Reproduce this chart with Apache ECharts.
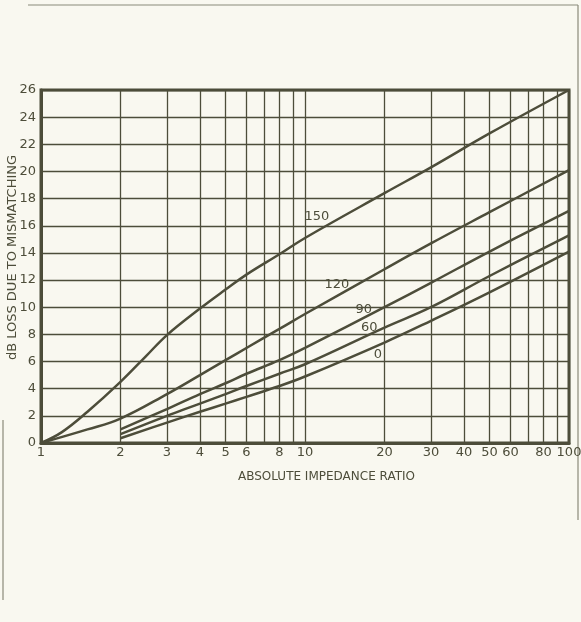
<!DOCTYPE html>
<html>
<head>
<meta charset="utf-8">
<script src="https://cdn.jsdelivr.net/npm/echarts@6/dist/echarts.min.js"></script>
<style>
  html, body { margin: 0; padding: 0; background: #f9f8f0; }
  #chart { width: 581px; height: 622px; }
</style>
</head>
<body>
<div id="chart"></div>
<script>
// impedance ratio (x) and dB loss (y) per curve
const ratio150 = [1, 1.2, 1.5, 2, 2.5, 3, 4, 5, 6, 8, 10, 20, 30, 50, 100];
const loss150  = [0, 0.8, 2.3, 4.5, 6.4, 7.95, 9.9, 11.3, 12.4, 13.9, 15.1, 18.4, 20.3, 22.8, 26];

const ratio120 = [1, 1.5, 2, 3, 4, 5, 6, 8, 10, 20, 30, 50, 100];
const loss120  = [0, 1.0, 1.8, 3.6, 5.0, 6.1, 7.0, 8.4, 9.5, 12.8, 14.7, 17.0, 20.1];

const ratio90 = [2, 3, 4, 5, 6, 8, 10, 20, 30, 50, 100];
const loss90  = [1.0, 2.5, 3.6, 4.4, 5.1, 6.1, 7.0, 10.0, 11.8, 14.1, 17.1];

const ratio60 = [2, 3, 4, 5, 6, 8, 10, 20, 30, 50, 100];
const loss60  = [0.65, 2.0, 2.9, 3.6, 4.2, 5.1, 5.8, 8.5, 10.0, 12.3, 15.3];

const ratio0 = [2, 3, 4, 5, 6, 8, 10, 20, 30, 50, 100];
const loss0  = [0.35, 1.5, 2.3, 2.9, 3.4, 4.2, 4.9, 7.4, 9.0, 11.1, 14.1];

// curve labels: [ratio, loss, text]
const curveLabels = [[11.1, 16.7, '150'], [13.2, 11.7, '120'], [16.7, 9.8, '90'], [17.5, 8.5, '60'], [18.9, 6.5, '0']];

// vertical grid lines and which of them get a tick label
const gridRatios = [1, 2, 3, 4, 5, 6, 7, 8, 9, 10, 20, 30, 40, 50, 60, 70, 80, 90, 100];
const tickLabels = [1, 2, 3, 4, 5, 6, 8, 10, 20, 30, 40, 50, 60, 80, 100];

const ink = '#4d4d3a';
const font = 'DejaVu Sans';

function pairs(xs, ys) {
  return xs.map(function (x, i) { return [x, ys[i]]; });
}

function curve(xs, ys) {
  return {
    type: 'line',
    data: pairs(xs, ys),
    smooth: 0.4,
    symbol: 'none',
    lineStyle: { color: ink, width: 2.5 },
    silent: true
  };
}

const chart = echarts.init(document.getElementById('chart'));

const series = [curve(ratio150, loss150), curve(ratio120, loss120), curve(ratio90, loss90),
                curve(ratio60, loss60), curve(ratio0, loss0)];

series[0].markLine = {
  silent: true,
  symbol: ['none', 'none'],
  animation: false,
  lineStyle: { color: ink, width: 1.3, type: 'solid' },
  label: {
    show: true,
    position: 'start',
    distance: 3,
    color: ink,
    fontFamily: font,
    fontSize: 13,
    formatter: function (p) {
      return tickLabels.indexOf(p.value) >= 0 ? String(p.value) : '';
    }
  },
  emphasis: { disabled: true },
  data: gridRatios.map(function (v) { return { xAxis: v }; })
};

series.push({
  type: 'scatter',
  data: curveLabels.map(function (d) { return [d[0], d[1], d[2]]; }),
  symbolSize: 0,
  silent: true,
  z: 5,
  label: {
    show: true,
    position: 'inside',
    color: ink,
    opacity: 1,
    textBorderWidth: 0,
    fontFamily: font,
    fontSize: 13,
    formatter: function (p) { return p.data[2]; }
  }
});

chart.setOption({
  backgroundColor: '#f9f8f0',
  animation: false,
  grid: {
    left: 41, right: 12, top: 90, bottom: 179,
    containLabel: false,
    outerBoundsMode: 'none',
    show: true, borderColor: ink, borderWidth: 3, backgroundColor: 'transparent'
  },
  xAxis: {
    type: 'log',
    logBase: 10,
    min: 1,
    max: 100,
    name: 'ABSOLUTE IMPEDANCE RATIO',
    nameLocation: 'middle',
    nameGap: 28,
    nameMoveOverlap: false,
    nameTextStyle: { color: ink, fontFamily: font, fontSize: 12, padding: [0, 0, 0, 43] },
    axisLine: { lineStyle: { color: ink, width: 3 } },
    axisTick: { show: false },
    axisLabel: { show: false },
    splitLine: { show: false }
  },
  yAxis: {
    type: 'value',
    min: 0,
    max: 26,
    interval: 2,
    name: 'dB LOSS DUE TO MISMATCHING',
    nameLocation: 'middle',
    nameGap: 22,
    nameMoveOverlap: false,
    nameTextStyle: { color: ink, fontFamily: font, fontSize: 13, padding: [0, 0, 0, 18] },
    axisLine: { show: true, lineStyle: { color: ink, width: 3 } },
    axisTick: { show: false },
    axisLabel: { color: ink, fontFamily: font, fontSize: 13, margin: 5 },
    splitLine: { lineStyle: { color: ink, width: 1.3 } }
  },
  graphic: [
    { type: 'line', shape: { x1: 28, y1: 5, x2: 578, y2: 5 }, style: { stroke: '#8a8a7a', lineWidth: 1.2 } },
    { type: 'line', shape: { x1: 578, y1: 5, x2: 578, y2: 520 }, style: { stroke: '#8a8a7a', lineWidth: 1.2 } },
    { type: 'line', shape: { x1: 3, y1: 420, x2: 3, y2: 600 }, style: { stroke: '#8a8a7a', lineWidth: 1.2 } }
  ],
  series: series
});
</script>
</body>
</html>
